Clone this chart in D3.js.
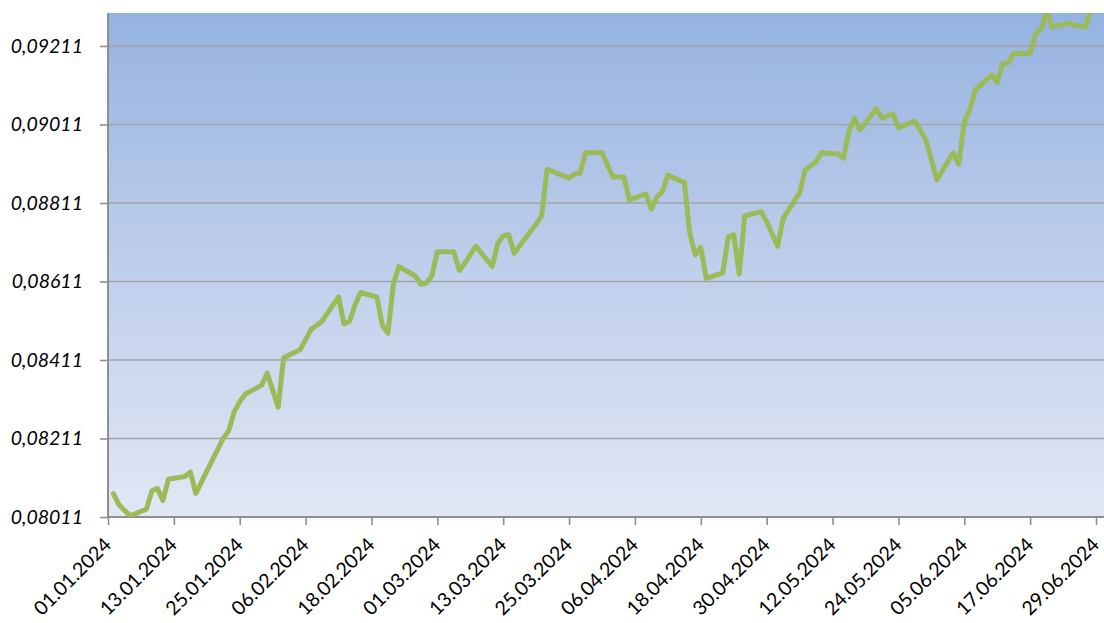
<!DOCTYPE html>
<html>
<head>
<meta charset="utf-8">
<script src="https://cdn.jsdelivr.net/npm/d3@7"></script>
<style>
  body { margin: 0; background: #fff; }
  svg { display: block; }
  .tick text { font-family: Lato, "Open Sans", sans-serif; fill: #000; }
</style>
</head>
<body>
<div id="graph"></div>
<script>
// dates (dd.mm.yyyy) and values
const dates = [
  "02.01.2024", "03.01.2024", "05.01.2024", "08.01.2024", "09.01.2024", "10.01.2024", "11.01.2024", "12.01.2024",
  "15.01.2024", "16.01.2024", "17.01.2024", "22.01.2024", "23.01.2024", "24.01.2024", "25.01.2024", "26.01.2024",
  "29.01.2024", "30.01.2024", "01.02.2024", "02.02.2024", "05.02.2024", "07.02.2024", "09.02.2024", "12.02.2024",
  "13.02.2024", "14.02.2024", "15.02.2024", "16.02.2024", "19.02.2024", "20.02.2024", "21.02.2024", "22.02.2024",
  "23.02.2024", "26.02.2024", "27.02.2024", "28.02.2024", "29.02.2024", "01.03.2024", "04.03.2024", "05.03.2024",
  "06.03.2024", "08.03.2024", "11.03.2024", "12.03.2024", "13.03.2024", "14.03.2024", "15.03.2024", "18.03.2024",
  "19.03.2024", "20.03.2024", "21.03.2024", "25.03.2024", "26.03.2024", "27.03.2024", "28.03.2024", "31.03.2024",
  "02.04.2024", "04.04.2024", "05.04.2024", "08.04.2024", "09.04.2024", "10.04.2024", "11.04.2024", "12.04.2024",
  "15.04.2024", "16.04.2024", "17.04.2024", "18.04.2024", "19.04.2024", "22.04.2024", "23.04.2024", "24.04.2024",
  "25.04.2024", "26.04.2024", "29.04.2024", "30.04.2024", "02.05.2024", "03.05.2024", "06.05.2024", "07.05.2024",
  "09.05.2024", "10.05.2024", "13.05.2024", "14.05.2024", "15.05.2024", "16.05.2024", "17.05.2024", "20.05.2024",
  "21.05.2024", "23.05.2024", "24.05.2024", "27.05.2024", "29.05.2024", "30.05.2024", "31.05.2024", "03.06.2024",
  "04.06.2024", "05.06.2024", "06.06.2024", "07.06.2024", "10.06.2024", "11.06.2024", "12.06.2024", "13.06.2024",
  "14.06.2024", "17.06.2024", "18.06.2024", "19.06.2024", "20.06.2024", "21.06.2024", "24.06.2024", "25.06.2024",
  "27.06.2024", "28.06.2024", "30.06.2024"
];
const values = [
  0.08070, 0.08042, 0.08014, 0.08031, 0.08078, 0.08084, 0.08053, 0.08107,
  0.08114, 0.08126, 0.08071, 0.08212, 0.08231, 0.08279, 0.08305, 0.08324,
  0.08347, 0.08378, 0.08291, 0.08417, 0.08437, 0.08489, 0.08510, 0.08572,
  0.08503, 0.08509, 0.08551, 0.08583, 0.08571, 0.08498, 0.08479, 0.08606,
  0.08649, 0.08625, 0.08604, 0.08607, 0.08625, 0.08687, 0.08687, 0.08639,
  0.08657, 0.08701, 0.08649, 0.08708, 0.08727, 0.08730, 0.08683, 0.08739,
  0.08757, 0.08778, 0.08897, 0.08874, 0.08885, 0.08887, 0.08939, 0.08939,
  0.08877, 0.08877, 0.08819, 0.08834, 0.08795, 0.08827, 0.08840, 0.08882,
  0.08863, 0.08734, 0.08679, 0.08698, 0.08619, 0.08633, 0.08725, 0.08730,
  0.08630, 0.08778, 0.08789, 0.08763, 0.08701, 0.08772, 0.08837, 0.08895,
  0.08916, 0.08939, 0.08936, 0.08925, 0.08995, 0.09027, 0.08997, 0.09052,
  0.09027, 0.09038, 0.09003, 0.09020, 0.08972, 0.08922, 0.08870, 0.08939,
  0.08910, 0.09016, 0.09048, 0.09099, 0.09137, 0.09118, 0.09167, 0.09168,
  0.09192, 0.09192, 0.09243, 0.09254, 0.09300, 0.09259, 0.09270, 0.09265,
  0.09259, 0.09300, 0.09310
];
const yTicks = [0.08011, 0.08211, 0.08411, 0.08611, 0.08811, 0.09011, 0.09211];
const firstTick = "01.01.2024", lastTick = "29.06.2024";

const parse = d3.timeParse("%d.%m.%Y");
const data = dates.map((d, i) => ({ date: parse(d), value: values[i] }));

const W = 1104, H = 623;
let margin = { top: 13, right: 0, bottom: 106, left: 108 },
    width = W - margin.left - margin.right,
    height = H - margin.top - margin.bottom;

let svg = d3.select("#graph")
    .append("svg")
    .attr("width", W)
    .attr("height", H);

const defs = svg.append("defs");
const grad = defs.append("linearGradient")
    .attr("id", "bg").attr("x1", 0).attr("y1", 0).attr("x2", 0).attr("y2", 1);
grad.append("stop").attr("offset", "0%").attr("stop-color", "#95b3e0");
grad.append("stop").attr("offset", "55%").attr("stop-color", "#c3d1ec");
grad.append("stop").attr("offset", "100%").attr("stop-color", "#e1e7f4");
defs.append("clipPath").attr("id", "clip")
    .append("rect").attr("width", width).attr("height", height);

let g = svg.append("g")
    .attr("transform", "translate(" + margin.left + "," + margin.top + ")");

// x: 01.01 at the axis, 29.06 a few px before the right edge
let x = d3.scaleTime()
    .domain([parse(firstTick), parse(lastTick)])
    .range([0, 988]);

let y = d3.scaleLinear()
    .domain([yTicks[0], yTicks[yTicks.length - 1]])
    .range([height, height - 471]);

g.append("rect")
    .attr("width", width).attr("height", height)
    .attr("fill", "url(#bg)");

// gridlines
g.append("g")
    .selectAll("line")
    .data(yTicks.slice(1))
    .join("line")
    .attr("x1", 0).attr("x2", width)
    .attr("y1", d => y(d)).attr("y2", d => y(d))
    .attr("stroke", "#a3a3a3")
    .attr("stroke-width", 1.6);

const locale = d3.formatLocale({ decimal: ",", thousands: " ", grouping: [3], currency: ["", ""] });
const fmtY = locale.format(".5f");

let yAxis = g.append("g")
    .call(d3.axisLeft(y).tickValues(yTicks).tickFormat(fmtY).tickSize(8).tickPadding(17));
yAxis.select(".domain").remove();
yAxis.selectAll(".tick line").attr("stroke", "#8f8f8f").attr("stroke-width", 1.6);
yAxis.selectAll(".tick text")
    .style("font-size", "19.5px")
    .style("font-style", "italic");

const xTicks = d3.timeDay.range(parse(firstTick), d3.timeDay.offset(parse(lastTick), 1), 12);
let xAxis = g.append("g")
    .attr("transform", "translate(0," + height + ")")
    .call(d3.axisBottom(x).tickValues(xTicks).tickFormat(d3.timeFormat("%d.%m.%Y")).tickSize(8));
xAxis.select(".domain").remove();
xAxis.selectAll(".tick line").attr("stroke", "#8f8f8f").attr("stroke-width", 1.6);
xAxis.selectAll(".tick text")
    .style("font-size", "19.5px")
    .attr("text-anchor", "end")
    .attr("dy", null)
    .attr("y", null)
    .attr("transform", "translate(4,29) rotate(-45)");

// axis lines
g.append("line")
    .attr("x1", 0).attr("x2", 0).attr("y1", 0).attr("y2", height)
    .attr("stroke", "#8f8f8f").attr("stroke-width", 2);
g.append("line")
    .attr("x1", 0).attr("x2", width).attr("y1", height).attr("y2", height)
    .attr("stroke", "#8f8f8f").attr("stroke-width", 2);

// series
g.append("path")
    .datum(data)
    .attr("clip-path", "url(#clip)")
    .attr("fill", "none")
    .attr("stroke", "#9bbb59")
    .attr("stroke-width", 5)
    .attr("stroke-linejoin", "round")
    .attr("stroke-linecap", "round")
    .attr("d", d3.line().x(d => x(d.date)).y(d => y(d.value)));
</script>
</body>
</html>
